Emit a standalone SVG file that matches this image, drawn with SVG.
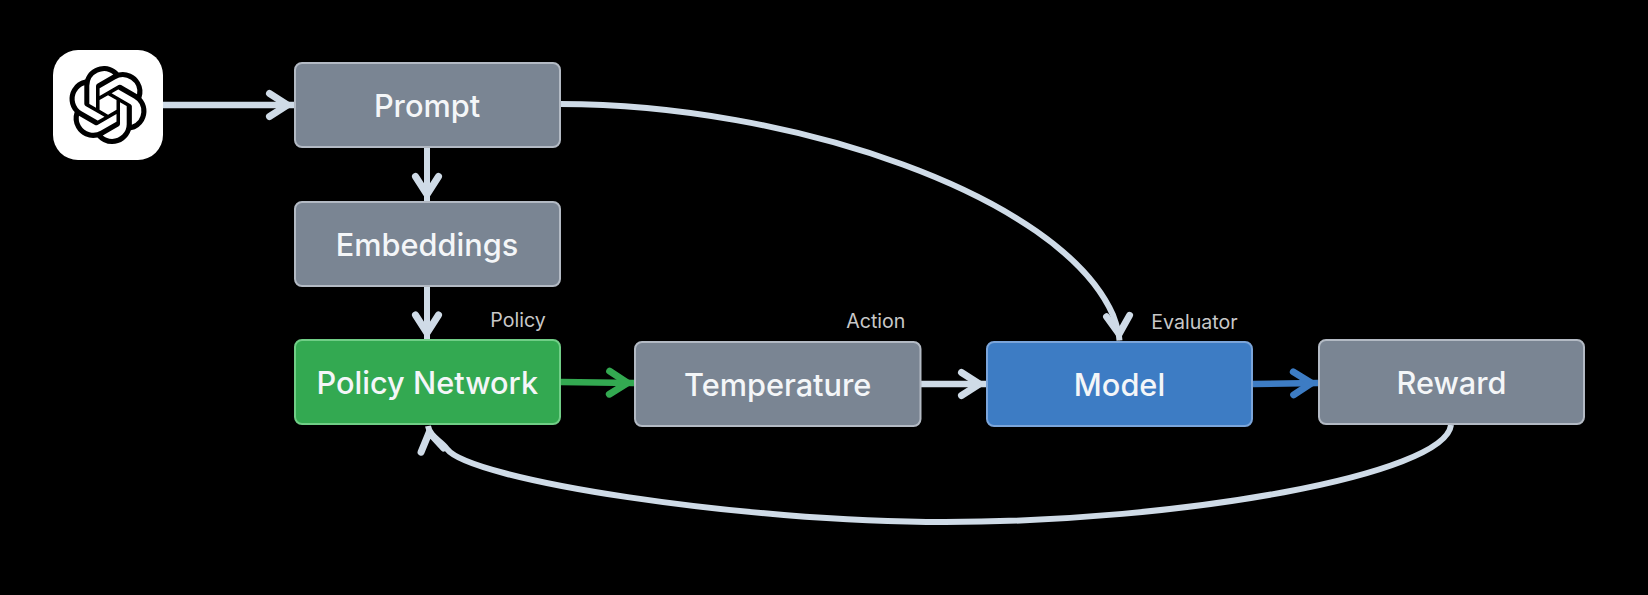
<svg xmlns="http://www.w3.org/2000/svg" width="1648" height="595" viewBox="0 0 1648 595">
<style>
.box{stroke-width:2}
.gray{fill:#7a8593;stroke:#b3bac4}
.green{fill:#33a951;stroke:#70ce86}
.blue{fill:#3d7cc4;stroke:#7ba5da}
.t{font-family:Inter,"Liberation Sans",sans-serif;font-size:30.7px;font-weight:500;fill:#f4f6f8;text-anchor:middle}
.l{font-family:Inter,"Liberation Sans",sans-serif;font-size:19.6px;fill:#c8c8c8;text-anchor:middle}
.c{fill:none;stroke-width:6}
.w{stroke-width:6.5}
.s{stroke:#cfdbe7}.g{stroke:#33a951}.b{stroke:#3d7cc4}
.h{fill:none;stroke-width:7;stroke-linecap:round;stroke-linejoin:miter}
</style>
<defs>
<marker id="as" markerUnits="userSpaceOnUse" markerWidth="40" markerHeight="40" refX="31.500" refY="20" orient="auto"><path class="h s" d="M7 8.500L25 20L7 31.500"/></marker>
<marker id="ag" markerUnits="userSpaceOnUse" markerWidth="40" markerHeight="40" refX="31.500" refY="20" orient="auto"><path class="h g" d="M7 8.500L25 20L7 31.500"/></marker>
<marker id="ab" markerUnits="userSpaceOnUse" markerWidth="40" markerHeight="40" refX="31.500" refY="20" orient="auto"><path class="h b" d="M7 8.500L25 20L7 31.500"/></marker>
</defs>
<rect width="1648" height="595" fill="#000"/>
<g id="connectors">
<path class="c w s" marker-end="url(#as)" d="M163 105H294"/>
<path class="c s" marker-end="url(#as)" d="M427 147V201"/>
<path class="c s" marker-end="url(#as)" d="M427 286V339.500"/>
<path class="c w g" marker-end="url(#ag)" d="M561 382L634 383"/>
<path class="c w s" marker-end="url(#as)" d="M921 384H986"/>
<path class="c w b" marker-end="url(#ab)" d="M1253 384L1318 383"/>
<path class="c s" marker-end="url(#as)" d="M560 104C790 104 1060 195 1113 315C1116 323 1119 332 1119.500 340.500"/>
<path class="c s" marker-end="url(#as)" d="M1451 425C1445 475 1180 522 945 522C740 522 470 480 447 449C440 440 430 437 428 426"/>
</g>
<g id="logo">
<rect x="53" y="50" width="110" height="110" rx="25" fill="#fff"/>
<path transform="translate(69 66) scale(3.25)" fill="#000" d="M22.2819 9.8211a5.9847 5.9847 0 0 0-.5157-4.9108 6.0462 6.0462 0 0 0-6.5098-2.9A6.0651 6.0651 0 0 0 4.9807 4.1818a5.9847 5.9847 0 0 0-3.9977 2.9 6.0462 6.0462 0 0 0 .7427 7.0966 5.98 5.98 0 0 0 .511 4.9107 6.051 6.051 0 0 0 6.5146 2.9001A5.9847 5.9847 0 0 0 13.2599 24a6.0557 6.0557 0 0 0 5.7718-4.2058 5.9894 5.9894 0 0 0 3.9977-2.9001 6.0557 6.0557 0 0 0-.7475-7.0729zm-9.022 12.6081a4.4755 4.4755 0 0 1-2.8764-1.0408l.1419-.0804 4.7783-2.7582a.7948.7948 0 0 0 .3927-.6813v-6.7369l2.02 1.1686a.071.071 0 0 1 .038.052v5.5826a4.504 4.504 0 0 1-4.4945 4.4944zm-9.6607-4.1254a4.4708 4.4708 0 0 1-.5346-3.0137l.142.0852 4.783 2.7582a.7712.7712 0 0 0 .7806 0l5.8428-3.3685v2.3324a.0804.0804 0 0 1-.0332.0615L9.74 19.9502a4.4992 4.4992 0 0 1-6.1408-1.6464zM2.3408 7.8956a4.485 4.485 0 0 1 2.3655-1.9728V11.6a.7664.7664 0 0 0 .3879.6765l5.8144 3.3543-2.0201 1.1685a.0757.0757 0 0 1-.071 0l-4.8303-2.7865A4.504 4.504 0 0 1 2.3408 7.872zm16.5963 3.8558L13.1038 8.364 15.1192 7.2a.0757.0757 0 0 1 .071 0l4.8303 2.7913a4.4944 4.4944 0 0 1-.6765 8.1042v-5.6772a.79.79 0 0 0-.407-.667zm2.0107-3.0231l-.142-.0852-4.7735-2.7818a.7759.7759 0 0 0-.7854 0L9.409 9.2297V6.8974a.0662.0662 0 0 1 .0284-.0615l4.8303-2.7866a4.4992 4.4992 0 0 1 6.6802 4.66zM8.3065 12.863l-2.02-1.1638a.0804.0804 0 0 1-.038-.0567V6.0742a4.4992 4.4992 0 0 1 7.3757-3.4537l-.142.0805L8.704 5.459a.7948.7948 0 0 0-.3927.6813zm1.0976-2.3654l2.602-1.4998 2.6069 1.4998v2.9994l-2.5974 1.4997-2.6099-1.4997Z"/>
</g>
<g id="prompt"><rect class="box gray" x="295" y="63" width="265" height="84" rx="7"/><text class="t" x="427" y="117">Prompt</text></g>
<g id="embeddings"><rect class="box gray" x="295" y="202" width="265" height="84" rx="7"/><text class="t" x="427" y="255.500">Embeddings</text></g>
<g id="policy"><rect class="box green" x="295" y="340" width="265" height="84" rx="7"/><text class="t" x="427.300" y="394">Policy Network</text><text class="l" x="518" y="327">Policy</text></g>
<g id="temperature"><rect class="box gray" x="635" y="342" width="285.500" height="84" rx="7"/><text class="t" x="777.700" y="396">Temperature</text><text class="l" x="875.800" y="328">Action</text></g>
<g id="model"><rect class="box blue" x="987" y="342" width="265" height="84" rx="7"/><text class="t" x="1119.500" y="396">Model</text><text class="l" x="1194.500" y="329">Evaluator</text></g>
<g id="reward"><rect class="box gray" x="1319" y="340" width="265" height="84" rx="7"/><text class="t" x="1451.500" y="394">Reward</text></g>
</svg>
